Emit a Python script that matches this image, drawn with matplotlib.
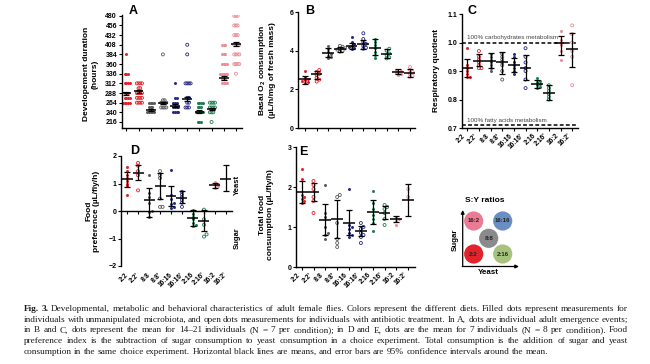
import numpy as np
import matplotlib
matplotlib.use('Agg')
import matplotlib.pyplot as plt
from matplotlib.patches import Circle

plt.rcParams['font.family'] = ['Liberation Sans', 'DejaVu Sans']
plt.rcParams['font.weight'] = 'bold'
plt.rcParams['mathtext.fontset'] = 'custom'
plt.rcParams['mathtext.rm'] = 'Liberation Sans'
plt.rcParams['mathtext.bf'] = 'Liberation Sans:bold'
plt.rcParams['mathtext.default'] = 'bf'

W, H = 650, 364

groups = ["2:2", "2:2'", "8:8", "8:8'", "16:16", "16:16'", "2:16", "2:16'", "16:2", "16:2'"]
diet_colors = ['#e0222b', '#5a5a5a', '#27297f', '#1d7c50', '#ec8c95']

# A - development duration (hours), individual emergence events
dev_dots = [
    [384] + [336] * 3 + [312] * 4 + [288] * 3 + [276] * 4 + [264] * 5,
    [312] * 4 + [300] * 2 + [288] * 4 + [276] * 4 + [264] * 4,
    [264] * 4 + [252] * 3 + [240] * 5,
    [384] + [270] * 2 + [264] * 4 + [252] * 4,
    [312] + [276] * 2 + [264] * 3 + [252] * 4 + [240] * 4,
    [408] + [384] + [312] * 4 + [276] * 2 + [264] * 2 + [252] * 3,
    [264] * 4 + [252] * 3 + [240] * 5 + [216] * 3,
    [264] * 4 + [252] * 4 + [240] * 3 + [216],
    [408] * 3 + [384] * 3 + [360] * 4 + [336] * 5 + [324] * 3 + [312] * 4,
    [480] * 3 + [456] * 3 + [432] * 3 + [408] * 4 + [384] * 4 + [360] * 4 + [336],
]
dev_mean = [287, 292, 246, 263, 256, 274, 242, 248, 325, 410]
dev_err = [4, 4, 3, 3, 4, 5, 3, 3, 5, 6]

# B - basal O2 consumption
o2_dots = [
    [2.96, 2.65, 2.55, 2.5, 2.45, 2.4, 2.35],
    [3.0, 2.9, 2.8, 2.75, 2.6, 2.5, 2.4],
    [4.25, 4.1, 3.95, 3.85, 3.75, 3.65, 3.6],
    [4.25, 4.2, 4.12, 4.1, 4.05, 4.0, 3.95],
    [4.7, 4.45, 4.35, 4.25, 4.2, 4.15, 4.1],
    [4.9, 4.6, 4.45, 4.35, 4.25, 4.15, 4.1],
    [4.6, 4.45, 4.3, 4.15, 3.95, 3.8, 3.6],
    [4.1, 4.0, 3.85, 3.75, 3.65, 3.6],
    [3.0, 2.95, 2.9, 2.85, 2.8, 2.75],
    [3.15, 3.0, 2.9, 2.8, 2.7, 2.65],
]
o2_mean = [2.53, 2.79, 3.9, 4.07, 4.25, 4.33, 4.16, 3.83, 2.91, 2.86]
o2_lo = [2.3, 2.53, 3.66, 3.92, 4.09, 4.09, 3.78, 3.6, 2.79, 2.62]
o2_hi = [2.7, 2.96, 4.12, 4.2, 4.42, 4.56, 4.6, 4.07, 3.05, 3.05]

# C - respiratory quotient
rq_dots = [
    [0.98, 0.92, 0.91, 0.90, 0.89, 0.88, 0.88],
    [0.97, 0.95, 0.94, 0.93, 0.92, 0.91, 0.91],
    [0.96, 0.95, 0.94, 0.93, 0.92, 0.91, 0.90],
    [0.96, 0.95, 0.94, 0.93, 0.92, 0.90, 0.87],
    [0.96, 0.95, 0.93, 0.92, 0.91, 0.90, 0.89],
    [0.98, 0.95, 0.93, 0.91, 0.90, 0.87, 0.84],
    [0.875, 0.865, 0.86, 0.855, 0.85, 0.845, 0.84],
    [0.85, 0.84, 0.83, 0.82, 0.81, 0.80],
    [1.04, 1.01, 1.0, 0.99, 0.97, 0.94],
    [1.06, 1.03, 1.0, 0.97, 0.95, 0.85],
]
rq_mean = [0.911, 0.936, 0.935, 0.932, 0.92, 0.911, 0.856, 0.824, 0.997, 0.976]
rq_lo = [0.879, 0.917, 0.909, 0.891, 0.897, 0.868, 0.842, 0.797, 0.956, 0.915]
rq_hi = [0.943, 0.96, 0.962, 0.967, 0.944, 0.955, 0.87, 0.85, 1.023, 1.034]

# D - food preference
pref_dots = [
    [1.6, 1.45, 1.3, 1.2, 1.1, 1.0, 0.9, 0.6],
    [1.75, 1.65, 1.45, 1.3, 0.75],
    [1.3, 0.65, 0.5, 0.3, 0.0, -0.05, -0.2],
    [1.45, 1.3, 1.2, 0.45, 0.15, 0.15],
    [1.5, 0.6, 0.45, 0.3, 0.25, 0.15, 0.1],
    [0.7, 0.6, 0.5, 0.4, 0.3, 0.15],
    [0.05, -0.1, -0.2, -0.3, -0.45, -0.5, -0.55],
    [0.05, -0.3, -0.5, -0.85, -0.93],
    [1.05, 1.0, 0.95, 0.9, 0.85],
    [],
]
pref_mean = [1.18, 1.4, 0.39, 0.91, 0.56, 0.49, -0.25, -0.38, 0.96, 1.18]
pref_lo = [0.88, 1.12, -0.21, 0.45, 0.19, 0.3, -0.55, -0.72, 0.85, 0.72]
pref_hi = [1.42, 1.66, 0.82, 1.4, 0.91, 0.72, 0.05, 0.03, 1.03, 1.66]

# E - total food consumption
tot_dots = [
    [2.45, 2.2, 1.8, 1.75, 1.7, 1.65, 1.6],
    [2.15, 2.05, 1.95, 1.75, 1.65, 1.35],
    [2.05, 1.35, 1.25, 1.0, 0.85, 0.8, 0.7],
    [1.8, 1.75, 1.1, 0.7, 0.6, 0.5],
    [1.95, 1.05, 1.0, 0.95, 0.85, 0.8, 0.75],
    [1.1, 1.0, 0.95, 0.85, 0.8, 0.75, 0.6],
    [1.9, 1.6, 1.45, 1.3, 1.2, 1.1, 0.9],
    [1.55, 1.5, 1.45, 1.35, 1.2, 1.05],
    [1.25, 1.2, 1.15, 1.05],
    [1.95, 1.75],
]
tot_mean = [1.87, 1.88, 1.18, 1.2, 1.11, 0.89, 1.38, 1.35, 1.2, 1.67]
tot_lo = [1.6, 1.65, 0.8, 0.72, 0.79, 0.78, 1.08, 1.2, 1.12, 1.28]
tot_hi = [2.14, 2.1, 1.58, 1.67, 1.43, 1.03, 1.67, 1.52, 1.28, 2.08]

# legend diagram
ratio_labels = ['16:2', '16:16', '8:8', '2:2', '2:16']
ratio_colors = ['#e97b95', '#6a8ec4', '#8a8a8c', '#e3232c', '#a6c27c']

caption = [
    "Fig. 3. Developmental, metabolic and behavioral characteristics of adult female flies. Colors represent the different diets. Filled dots represent measurements for",
    "individuals with unmanipulated microbiota, and open dots measurements for individuals with antibiotic treatment. In A, dots are individual adult emergence events;",
    "in B and C, dots represent the mean for 14\u201321 individuals (N = 7 per condition); in D and E, dots are the mean for 7 individuals (N = 8 per condition). Food",
    "preference index is the subtraction of sugar consumption to yeast consumption in a choice experiment. Total consumption is the addition of sugar and yeast",
    "consumption in the same choice experiment. Horizontal black lines are means, and error bars are 95% confidence intervals around the mean.",
]

fig = plt.figure(figsize=(W / 100, H / 100), dpi=100)

ov = fig.add_axes([0, 0, 1, 1])
ov.set_xlim(0, W)
ov.set_ylim(H, 0)
ov.axis('off')
ov.set_zorder(10)
ov.patch.set_visible(False)


def px_axes(x0, y0, x1, y1):
    return fig.add_axes([x0 / W, 1 - y1 / H, (x1 - x0) / W, (y1 - y0) / H])


def style(ax):
    for s in ['top', 'right']:
        ax.spines[s].set_visible(False)
    for s in ['left', 'bottom']:
        ax.spines[s].set_linewidth(1.0)
    ax.patch.set_visible(False)
    ax.tick_params(length=2.2, width=0.8, labelsize=5, pad=1)


def swarm(ax, xc, vals, color, filled, d, gap):
    if len(vals) == 0:
        return
    fwd = ax.transData
    inv = ax.transData.inverted()
    placed = []
    xs, ys = [], []
    offs = [0]
    for m in range(1, 12):
        offs += [m * gap, -m * gap]
    for v in sorted(vals):
        px, py = fwd.transform((xc, v))
        for o in offs:
            cx = px + o
            if all(np.hypot(cx - qx, py - qy) >= gap * 0.999 for qx, qy in placed):
                break
        placed.append((cx, py))
        xs.append(inv.transform((cx, py))[0])
        ys.append(v)
    s = (d * 0.72) ** 2
    if filled:
        ax.scatter(xs, ys, s=s, color=color, lw=0, zorder=2)
    else:
        ax.scatter(xs, ys, s=s, facecolor='none', edgecolor=color, lw=0.6, zorder=2)


def draw_groups(ax, dots, mean, lo, hi, half, d, gap):
    for i in range(len(groups)):
        col = diet_colors[i // 2]
        swarm(ax, i, dots[i], col, i % 2 == 0, d, gap)
        ax.hlines(mean[i], i - half, i + half, color='k', lw=1.1, zorder=3)
        ax.errorbar(i, mean[i], yerr=[[mean[i] - lo[i]], [hi[i] - mean[i]]],
                    fmt='none', ecolor='k', elinewidth=0.9, capsize=2.2, capthick=0.9, zorder=3)


x = np.arange(len(groups))

# Panel A
axA = px_axes(121.5, 15, 242, 128)
style(axA)
axA.set_xlim(-0.4, 9.5)
axA.set_ylim(201, 482)
axA.set_yticks(np.arange(216, 481, 24))
axA.set_xticks(x)
axA.set_xticklabels([])
draw_groups(axA, dev_dots, dev_mean,
            [m - e for m, e in zip(dev_mean, dev_err)],
            [m + e for m, e in zip(dev_mean, dev_err)], 0.4, 3.0, 1.7)

# Panel B
axB = px_axes(298, 12, 415, 128)
style(axB)
axB.set_xlim(-0.6, 9.43)
axB.set_ylim(0, 6)
axB.set_yticks([0, 2, 4, 6])
axB.set_xticks(x)
axB.set_xticklabels([])
draw_groups(axB, o2_dots, o2_mean, o2_lo, o2_hi, 0.5, 3.0, 2.6)

# Panel C
axC = px_axes(462, 14, 578, 128)
style(axC)
axC.set_xlim(-0.45, 9.5)
axC.set_ylim(0.7, 1.1)
axC.set_yticks([0.7, 0.8, 0.9, 1.0, 1.1])
axC.set_xticks(x)
axC.set_xticklabels(groups, rotation=45, ha='right', fontsize=4.8)
axC.axhline(1.0, color='k', lw=1.1, ls=(0, (2.5, 1.5)), zorder=1)
axC.axhline(0.71, color='k', lw=1.1, ls=(0, (2.5, 1.5)), zorder=1)
axC.text(0.0, 1.011, '100% carbohydrates metabolism', fontsize=4.5, weight='normal', color='#444444')
axC.text(0.0, 0.72, '100% fatty acids metabolism', fontsize=4.5, weight='normal', color='#444444')
draw_groups(axC, rq_dots, rq_mean, rq_lo, rq_hi, 0.5, 3.0, 2.6)

# Panel D
axD = px_axes(121, 156, 232, 266)
style(axD)
axD.set_xlim(-0.55, 9.55)
axD.set_ylim(-2, 2)
axD.set_yticks([-2, -1, 0, 1, 2])
axD.spines['bottom'].set_position(('data', 0))
axD.set_xticks(x)
axD.set_xticklabels([])
for i, g in enumerate(groups):
    axD.text(i + 0.25, -2.2, g, rotation=45, ha='right', va='top', fontsize=4.8)
draw_groups(axD, pref_dots, pref_mean, pref_lo, pref_hi, 0.5, 3.0, 2.6)

# Panel E
axE = px_axes(296, 147, 415, 267)
style(axE)
axE.set_xlim(-0.48, 9.57)
axE.set_ylim(0, 3)
axE.set_yticks([0, 1, 2, 3])
axE.set_xticks(x)
axE.set_xticklabels(groups, rotation=45, ha='right', fontsize=4.8)
draw_groups(axE, tot_dots, tot_mean, tot_lo, tot_hi, 0.5, 3.0, 2.6)

# panel letters
for lab, (lx, ly) in zip('ABCDE', [(129, 11), (305, 11.5), (467, 10.5), (130, 151), (299, 152)]):
    ov.text(lx, ly, lab, fontsize=9, ha='left', va='center')

# y labels
ov.text(91, 74, 'Developement duration\n(hours)', rotation=90, ha='center', va='center', fontsize=6)
ov.text(266.5, 70, 'Basal O$_2$ consumption\n(\u00b5L/h/mg of fresh mass)', rotation=90,
        ha='center', va='center', fontsize=6)
ov.text(437, 70, 'Respiratory quotient', rotation=90, ha='center', va='center', fontsize=6)
ov.text(93, 211, 'Food\npreference (\u00b5L/fly/h)', rotation=90, ha='center', va='center', fontsize=6)
ov.text(266.5, 215, 'Total food\nconsumption (\u00b5L/fly/h)', rotation=90, ha='center', va='center', fontsize=6)
ov.text(237, 185, 'Yeast', rotation=90, ha='center', va='center', fontsize=5.5)
ov.text(237, 238, 'Sugar', rotation=90, ha='center', va='center', fontsize=5.5)

# S:Y legend diagram
ov.text(465, 201, 'S:Y ratios', ha='left', va='center', fontsize=6)
centres = [(473.7, 221), (502.7, 221), (488.7, 238.3), (473.7, 254), (502.7, 254)]
for (cx, cy), lab, col in zip(centres, ratio_labels, ratio_colors):
    ov.add_patch(Circle((cx, cy), 9.6, color=col, lw=0))
    ov.text(cx, cy, lab, ha='center', va='center', fontsize=4.3, color='#222222')
ov.annotate('', xy=(462.7, 210), xytext=(462.7, 266.5),
            arrowprops=dict(arrowstyle='-|>', lw=0.9, color='k', mutation_scale=5, shrinkA=0, shrinkB=0))
ov.annotate('', xy=(519, 266.5), xytext=(462.2, 266.5),
            arrowprops=dict(arrowstyle='-|>', lw=0.9, color='k', mutation_scale=5, shrinkA=0, shrinkB=0))
ov.text(455, 240, 'Sugar', rotation=90, ha='center', va='center', fontsize=5.7)
ov.text(488, 273, 'Yeast', ha='center', va='center', fontsize=5.7)

# caption, justified word by word
renderer = fig.canvas.get_renderer()
x0, x1 = 24, 628
ref_fs = 10.0
space_px = 0.25 * ref_fs * 100 / 72


def word_weight(i, j):
    return 'bold' if (i == 0 and j < 2) else 'normal'


# measure words at a reference size, then pick the size where the widest line fits
sums = []
for i, line in enumerate(caption[:-1]):
    words = line.split(' ')
    tot = 0
    for j, w in enumerate(words):
        t = ov.text(0, 0, w, fontsize=ref_fs, family='Liberation Serif', weight=word_weight(i, j))
        tot += t.get_window_extent(renderer).width
        t.remove()
    sums.append(tot + (len(words) - 1) * space_px)
cap_fs = ref_fs * (x1 - x0) / max(sums)

for i, line in enumerate(caption):
    y = 309 + i * 10.7
    words = line.split(' ')
    objs = []
    for j, w in enumerate(words):
        objs.append(ov.text(0, y, w, fontsize=cap_fs, family='Liberation Serif', weight=word_weight(i, j),
                            ha='left', va='center', color='#1a1a1a'))
    widths = [t.get_window_extent(renderer).width for t in objs]
    if i == len(caption) - 1:
        gap = space_px * cap_fs / ref_fs
    else:
        gap = (x1 - x0 - sum(widths)) / (len(words) - 1)
    xp = x0
    for t, w in zip(objs, widths):
        t.set_x(xp)
        xp += w + gap

fig.savefig('out.png', dpi=100)
